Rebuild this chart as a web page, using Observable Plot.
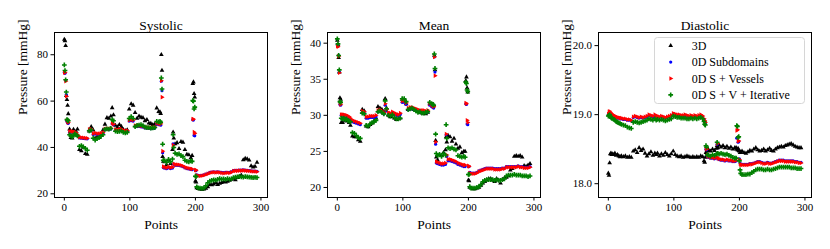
<!DOCTYPE html>
<html><head><meta charset="utf-8">
<script src="https://cdn.jsdelivr.net/npm/d3@7"></script>
<script src="https://cdn.jsdelivr.net/npm/@observablehq/plot@0.6"></script>
<style>
body{margin:0;background:#fff;}
#wrap{position:relative;width:830px;height:249px;font-family:'Liberation Serif', 'DejaVu Serif', serif;background:#fff;}
.panel{position:absolute;top:0;}
#legend{position:absolute;left:654px;top:37px;}
svg text{font-family:'Liberation Serif', 'DejaVu Serif', serif !important;}
</style></head><body><div id="wrap"></div>
<script>
const points = [0,1,2,3,4,5,6, 8,10,12,14,16,18,20, 23,26,29,32,35,38,41,44,47,50, 53,56,59,62,65,68,71, 73,75, 78,81,84,87,90,93,96,99, 102,105,108,111,114,117,120,123,126,129, 132,135,138,141,144, 146,147,148,149,150,151, 153,156,159,162,165, 166,167,169, 172,175,178,181,184,187,190,193, 195,196,197,198,199,200,201,202, 204,207,210,213,216,219,222,225,228,231, 234,237,240,243,246,249,252,255,258,261, 264,267,270,273,276,279,282,285,288,291,294];
const xTicks = [0,100,200,300];
const seriesNames = ["3D","0D Subdomains","0D S + Vessels","0D S + V + Iterative"];

// Systolic
const sys3D = [86.6,86.0,83.9,62.4,60.6,58.1,54.5, 47.9,44.2,44.0,47.8,45.5,46.8,47.9, 39.0,38.5,40.0,37.3,37.0,47.0,48.9,47.5,44.0,44.5, 44.2,45.5,47.5,50.0,52.8,52.5,53.5, 57.1,54.0, 49.5,48.8,49.8,49.0,47.6,47.2,47.5,56.5, 58.8,58.2,55.0,52.5,53.5,53.0,52.8,51.5,52.0,50.5, 50.3,49.8,50.0,57.0,55.5, 55.3,54.6,80.0,73.2,36.0,34.0, 33.8,32.5,34.5,33.0,39.0, 46.6,44.0,41.5, 42.0,39.5,42.5,42.2,39.0,37.0,36.8,35.5, 36.5,67.5,68.2,63.2,61.7,25.5,25.0,22.5, 22.2,22.0,21.9,22.0,22.3,23.0,24.0,23.8,24.2,24.8, 24.0,24.5,24.8,25.2,25.0,25.4,25.8,26.2,26.5,26.0, 27.0,27.5,28.0,34.6,35.2,35.0,34.5,32.0,31.5,31.8,33.5];
const sysSub = [72.3,72.0,68.9,62.8,51.3,50.6,50.4, 46.5,46.7,46.6,46.5,46.3,46.0,45.3, 44.1,44.0,43.9,43.8,43.7,47.4,47.5,45.6,45.8,45.7, 45.7,45.9,46.1,47.7,47.9,47.7,48.0, 50.2,49.8, 47.4,47.3,47.5,47.6,47.1,46.9,47.0,51.4, 51.6,51.4,49.1,49.0,49.1,48.9,48.8,48.4,48.3,48.2, 48.1,48.2,48.4,50.1,49.8, 49.9,49.6,68.6,64.5,37.7,31.3, 31.1,30.8,31.2,30.9,31.1, 41.5,32.8,32.3, 32.3,32.2,32.0,31.7,31.2,30.9,30.7,30.5, 30.4,52.0,51.8,45.2,45.0,30.0,30.0,28.2, 28.0,27.9,28.0,28.2,28.5,28.8,29.2,29.4,29.5,29.4, 29.5,29.4,29.2,29.1,29.2,29.3,29.2,29.5,30.0,30.1, 30.1,30.2,30.2,30.3,30.2,30.1,30.0,29.9,29.8,29.8,29.7];
const sysVes = [72.4,72.3,68.6,62.1,51.6,51.0,50.8, 46.9,47.0,46.9,46.8,46.6,46.3,45.5, 44.4,44.3,44.2,44.1,44.0,47.8,47.9,46.0,46.2,46.0, 46.0,46.2,46.4,48.0,48.2,48.0,48.3, 50.5,50.0, 47.7,47.6,47.8,47.9,47.4,47.2,47.3,51.8, 52.0,51.8,49.5,49.4,49.5,49.3,49.2,48.8,48.7,48.6, 48.5,48.6,48.8,50.5,50.2, 50.4,50.1,68.8,61.7,38.4,31.8, 31.5,31.2,31.6,31.3,31.5, 41.0,33.0,32.6, 32.6,32.5,32.3,32.0,31.5,31.2,31.0,30.8, 30.7,52.3,52.2,46.6,46.0,30.3,30.2,28.0, 27.8,27.7,27.8,28.0,28.3,28.6,29.0,29.2,29.3,29.2, 29.3,29.2,29.0,28.9,29.0,29.1,29.0,29.3,29.8,29.9, 29.9,30.0,30.0,30.1,30.0,29.9,29.8,29.7,29.6,29.6,29.5];
const sysIter = [75.6,73.2,69.2,63.9,52.0,51.8,51.5, 45.5,45.0,44.6,45.3,45.8,45.4,45.0, 40.5,40.8,40.2,39.6,38.8,47.2,47.5,44.0,43.2,43.8, 44.2,44.8,45.5,47.8,48.0,47.9,48.2, 52.0,51.5, 47.0,46.8,46.9,47.2,46.5,46.3,46.5,52.5, 53.3,52.5,49.0,49.5,49.6,49.8,49.4,48.8,48.6,48.5, 48.3,48.4,48.6,51.2,51.0, 51.3,50.8,70.0,65.2,41.4,34.5, 34.3,33.6,34.8,33.8,35.0, 45.5,40.0,37.5, 37.0,37.2,36.5,36.0,34.5,34.0,33.8,34.2, 34.0,60.2,60.0,56.6,57.4,27.6,27.4,23.0, 22.6,22.4,22.3,22.5,23.5,24.8,25.5,25.8,26.0,25.9, 26.2,26.5,26.3,26.4,26.2,26.5,26.3,26.4,27.0,27.2, 27.3,27.4,27.3,27.2,27.4,27.3,27.2,27.1,27.0,27.1,27.0];

// Mean
const mean3D = [40.4,39.8,38.0,36.0,32.4,32.2,29.0, 29.0,29.5,29.3,29.2,29.4,29.0,28.6, 27.1,27.0,27.0,26.6,26.4,30.8,30.6,28.5,28.4,28.7, 28.9,29.2,29.6,31.2,31.0,30.8,30.5, 32.3,31.0, 30.0,29.8,30.1,29.6,29.4,29.5,29.6,32.2, 32.2,31.6,30.8,30.9,31.0,30.8,30.7,30.5,30.4,30.3, 30.3,30.2,30.4,31.6,31.5, 31.5,31.3,38.3,36.3,26.5,24.2, 23.8,24.5,24.4,24.8,25.2, 27.0,26.3,27.2, 27.0,26.4,26.8,26.0,25.4,25.6,24.8,25.0, 25.0,34.8,35.3,33.8,33.2,21.0,20.9,20.0, 19.9,19.8,19.8,19.9,20.0,20.3,20.6,20.8,21.0,21.2, 21.2,21.0,20.8,21.2,21.0,20.6,21.1,21.3,21.4,21.6, 22.4,22.6,24.3,24.4,24.3,24.4,24.2,23.0,22.9,23.1,23.3];
const meanSub = [39.8,39.6,38.3,36.0,31.5,31.4,30.0, 29.9,29.9,29.8,29.8,29.7,29.6,29.4, 29.1,29.0,28.9,28.8,28.7,30.4,30.3,29.6,29.6,29.7, 29.7,29.7,29.8,30.5,30.6,30.4,30.2, 31.4,30.6, 30.2,30.1,30.3,30.1,30.0,29.9,30.1,31.8, 31.8,31.5,30.8,30.9,30.9,30.8,30.7,30.6,30.5,30.5, 30.5,30.4,30.5,31.4,31.2, 31.1,31.0,38.1,36.0,26.0,23.4, 23.3,23.2,23.1,23.1,23.2, 27.3,24.3,23.7, 23.7,23.6,23.5,23.4,23.2,23.1,23.0,22.9, 22.9,31.6,31.5,28.8,28.7,22.9,22.9,22.1, 22.0,22.0,22.0,22.1,22.3,22.4,22.5,22.6,22.7,22.7, 22.7,22.7,22.6,22.6,22.6,22.6,22.7,22.7,22.9,22.9, 22.9,22.9,22.9,22.9,23.0,22.9,22.9,22.8,22.8,22.8,22.9];
const meanVes = [39.6,39.5,38.2,35.9,31.7,31.5,30.1, 30.1,30.1,30.0,30.0,29.9,29.8,29.6, 29.3,29.2,29.1,29.0,28.9,30.6,30.5,29.8,29.8,29.9, 29.9,29.9,30.0,30.7,30.8,30.6,30.4, 31.6,30.8, 30.4,30.3,30.5,30.3,30.2,30.1,30.3,32.0, 32.0,31.7,31.0,31.1,31.1,31.0,30.9,30.8,30.7,30.7, 30.7,30.6,30.7,31.6,31.4, 31.3,31.2,38.1,35.5,26.3,23.6, 23.5,23.4,23.3,23.3,23.4, 27.4,24.5,23.9, 23.9,23.8,23.7,23.6,23.4,23.3,23.2,23.1, 23.1,31.7,31.6,29.3,29.0,23.0,22.9,22.0, 21.9,21.9,21.9,22.0,22.2,22.3,22.4,22.5,22.6,22.6, 22.6,22.6,22.5,22.5,22.5,22.5,22.6,22.6,22.8,22.8, 22.8,22.8,22.8,22.8,22.9,22.8,22.8,22.7,22.7,22.7,22.8];
const meanIter = [40.6,39.9,38.3,36.3,31.9,31.8,29.6, 29.5,29.6,29.4,29.5,29.3,29.2,29.1, 27.6,27.5,27.2,26.9,26.8,30.3,30.2,28.6,28.5,28.8, 29.0,29.1,29.3,30.5,30.6,30.4,30.2, 32.0,30.9, 30.0,29.9,30.1,29.7,29.5,29.5,29.6,32.3, 32.3,31.9,30.8,30.9,31.0,30.8,30.6,30.4,30.5,30.3, 30.3,30.4,30.5,31.8,31.6, 31.5,31.4,38.5,36.5,27.4,24.7, 24.4,24.6,24.3,24.7,24.5, 28.7,26.8,25.5, 25.4,25.5,25.3,25.2,24.4,24.3,24.2,24.3, 24.2,34.6,34.4,33.5,33.3,21.8,21.8,20.1, 19.9,19.9,19.9,20.0,20.1,20.4,20.8,21.0,21.1,21.1, 21.1,21.1,21.0,21.1,21.0,21.0,21.1,21.2,21.6,21.7, 21.7,21.7,21.8,21.7,21.7,21.7,21.6,21.6,21.6,21.5,21.6];

// Diastolic
const dia3D = [18.15,18.12,18.30,18.43,18.44,18.42,18.43, 18.42,18.44,18.41,18.42,18.40,18.39,18.40, 18.39,18.40,18.38,18.39,18.38,18.47,18.49,18.45,18.52,18.48, 18.50,18.44,18.40,18.43,18.46,18.41,18.44, 18.42,18.44, 18.40,18.43,18.41,18.45,18.42,18.40,18.43,18.47, 18.42,18.40,18.39,18.40,18.38,18.39,18.40,18.39,18.38,18.39, 18.38,18.39,18.38,18.40,18.39, 18.33,18.31,18.38,18.45,18.47,18.48, 18.49,18.47,18.50,18.48,18.51, 18.55,18.52,18.56, 18.53,18.55,18.52,18.54,18.51,18.53,18.50,18.52, 18.52,18.50,18.49,18.51,18.48,18.47,18.45,18.46, 18.47,18.45,18.44,18.46,18.48,18.47,18.50,18.52,18.49,18.47, 18.48,18.50,18.47,18.49,18.51,18.48,18.47,18.50,18.52,18.53, 18.54,18.53,18.55,18.56,18.57,18.58,18.56,18.54,18.53,18.52,18.52];
const diaSub = [19.00,19.02,19.03,19.02,19.01,19.00,18.99, 18.98,18.97,18.96,18.95,18.95,18.94,18.94, 18.93,18.93,18.92,18.92,18.91,18.96,18.97,18.96,18.95,18.96, 18.95,18.96,18.97,18.99,18.98,18.97,18.99, 18.96,18.97, 18.96,18.97,18.96,18.95,18.96,18.97,18.98,19.01, 19.00,18.99,18.99,18.98,18.98,18.99,18.98,18.97,18.98,18.97, 18.98,18.97,18.98,18.99,18.97, 18.93,18.90,18.88,18.50,18.49,18.40, 18.38,18.37,18.37,18.36,18.38, 18.57,18.36,18.35, 18.34,18.34,18.33,18.34,18.33,18.33,18.32,18.32, 18.33,18.66,18.67,18.60,18.61,18.36,18.30,18.28, 18.28,18.28,18.28,18.28,18.29,18.29,18.30,18.31,18.32,18.32, 18.31,18.30,18.30,18.31,18.30,18.30,18.31,18.32,18.33,18.34, 18.34,18.34,18.33,18.33,18.33,18.33,18.33,18.32,18.32,18.31,18.31];
const diaVes = [19.01,19.04,19.05,19.03,19.02,19.01,19.00, 18.99,18.98,18.97,18.96,18.96,18.95,18.95, 18.94,18.94,18.93,18.93,18.92,18.97,18.98,18.97,18.96,18.97, 18.96,18.97,18.98,19.00,18.99,18.98,19.00, 18.97,18.98, 18.97,18.98,18.97,18.96,18.97,18.98,18.99,19.02, 19.01,19.00,19.00,18.99,18.99,19.00,18.99,18.98,18.99,18.98, 18.99,18.98,18.99,19.00,18.98, 18.94,18.91,18.89,18.51,18.50,18.41, 18.39,18.38,18.38,18.37,18.39, 18.58,18.37,18.36, 18.35,18.35,18.34,18.35,18.34,18.34,18.33,18.33, 18.34,18.77,18.78,18.62,18.62,18.35,18.29,18.27, 18.27,18.27,18.27,18.27,18.28,18.28,18.29,18.30,18.31,18.31, 18.30,18.29,18.29,18.30,18.29,18.29,18.30,18.31,18.32,18.33, 18.33,18.33,18.32,18.32,18.32,18.32,18.32,18.31,18.31,18.30,18.30];
const diaIter = [18.98,18.99,19.00,18.97,18.96,18.95,18.95, 18.93,18.92,18.90,18.89,18.88,18.87,18.86, 18.85,18.84,18.82,18.81,18.80,18.89,18.90,18.89,18.88,18.89, 18.90,18.91,18.92,18.94,18.93,18.92,18.94, 18.92,18.93, 18.92,18.93,18.92,18.91,18.92,18.93,18.94,18.98, 18.97,18.96,18.96,18.95,18.95,18.95,18.94,18.94,18.95,18.94, 18.95,18.94,18.95,18.96,18.94, 18.90,18.86,18.85,18.55,18.53,18.42, 18.41,18.40,18.42,18.41,18.43, 18.60,18.44,18.43, 18.44,18.43,18.42,18.43,18.41,18.40,18.38,18.37, 18.37,18.84,18.83,18.67,18.68,18.33,18.20,18.15, 18.13,18.13,18.13,18.14,18.14,18.16,18.18,18.20,18.21,18.21, 18.21,18.20,18.20,18.21,18.20,18.20,18.21,18.22,18.23,18.24, 18.24,18.24,18.24,18.24,18.24,18.23,18.23,18.23,18.22,18.22,18.22];

const sysTicks = [20,40,60,80];
const meanTicks = [20,25,30,35,40];
const diaTicks = [18,19,20];

const font = "Liberation Serif, DejaVu Serif, serif";
const triRight = {
  draw(ctx, size) {
    const s = Math.sqrt(size / (Math.sqrt(3) / 4));
    const h = s * Math.sqrt(3) / 2;
    ctx.moveTo(2 * h / 3, 0);
    ctx.lineTo(-h / 3, -s / 2);
    ctx.lineTo(-h / 3, s / 2);
    ctx.closePath();
  }
};
const styles = [
  {symbol: d3.symbolTriangle, fill: "black", r: 1.75},
  {symbol: d3.symbolCircle, fill: "#0000ff", r: 1.6},
  {symbol: triRight, fill: "#ff0000", r: 1.7},
  {symbol: d3.symbolCross, fill: "#008000", r: 2.0}
];

function rows(arr) { return points.map((x, i) => ({x, y: arr[i]})); }

function panel(title, arrays, yDomain, yTicks, left) {
  const marks = [];
  arrays.forEach((arr, k) => {
    marks.push(Plot.dot(rows(arr), {x: "x", y: "y", symbol: styles[k].symbol, r: styles[k].r, fill: styles[k].fill, stroke: "none"}));
  });
  marks.push(
    Plot.frame({stroke: "black", strokeWidth: 1}),
    Plot.axisX(xTicks, {tickSize: 3.5, tickPadding: 2, label: null}),
    Plot.axisY(yTicks, {tickSize: 3.5, tickPadding: 3, label: null}),
    Plot.text([title], {text: d => d, frameAnchor: "top", dy: -12, fontSize: 13.5}),
    Plot.text(["Points"], {text: d => d, frameAnchor: "bottom", dy: 31, fontSize: 13.5}),
    Plot.text(["Pressure [mmHg]"], {text: d => d, frameAnchor: "left", dx: -32, rotate: -90, fontSize: 13.5})
  );
  const chart = Plot.plot({
    width: 277, height: 249,
    marginLeft: 54, marginRight: 10, marginTop: 32, marginBottom: 52,
    x: {domain: [-15, 310]},
    y: {domain: yDomain},
    style: {fontFamily: font, fontSize: "11px", color: "black", background: "transparent", overflow: "visible"},
    marks
  });
  const div = document.createElement("div");
  div.className = "panel";
  div.style.left = left + "px";
  div.appendChild(chart);
  document.getElementById("wrap").appendChild(div);
}

panel("Systolic", [sys3D, sysSub, sysVes, sysIter], [18.4, 89.6], sysTicks, 0);
panel("Mean", [mean3D, meanSub, meanVes, meanIter], [18.61, 41.48], meanTicks, 273);
panel("Diastolic", [dia3D, diaSub, diaVes, diaIter], [17.8, 20.19], diaTicks, 544);

// legend
const lg = d3.select("#wrap").append("svg").attr("id", "legend")
  .attr("width", 152).attr("height", 68);
lg.append("rect").attr("x", 0.5).attr("y", 0.5).attr("width", 150).attr("height", 66).attr("rx", 3)
  .attr("fill", "white").attr("fill-opacity", 0.8).attr("stroke", "#d6d6d6");
seriesNames.forEach((name, k) => {
  const y = 8.7 + k * 16.4;
  const r = styles[k].r;
  lg.append("path").attr("transform", `translate(16.7,${y})`)
    .attr("d", d3.symbol(styles[k].symbol, Math.PI * r * r)()).attr("fill", styles[k].fill);
  lg.append("text").attr("x", 37.7).attr("y", y).attr("dy", "0.35em")
    .attr("font-family", font).attr("font-size", 12).text(name);
});
</script>
</body></html>
